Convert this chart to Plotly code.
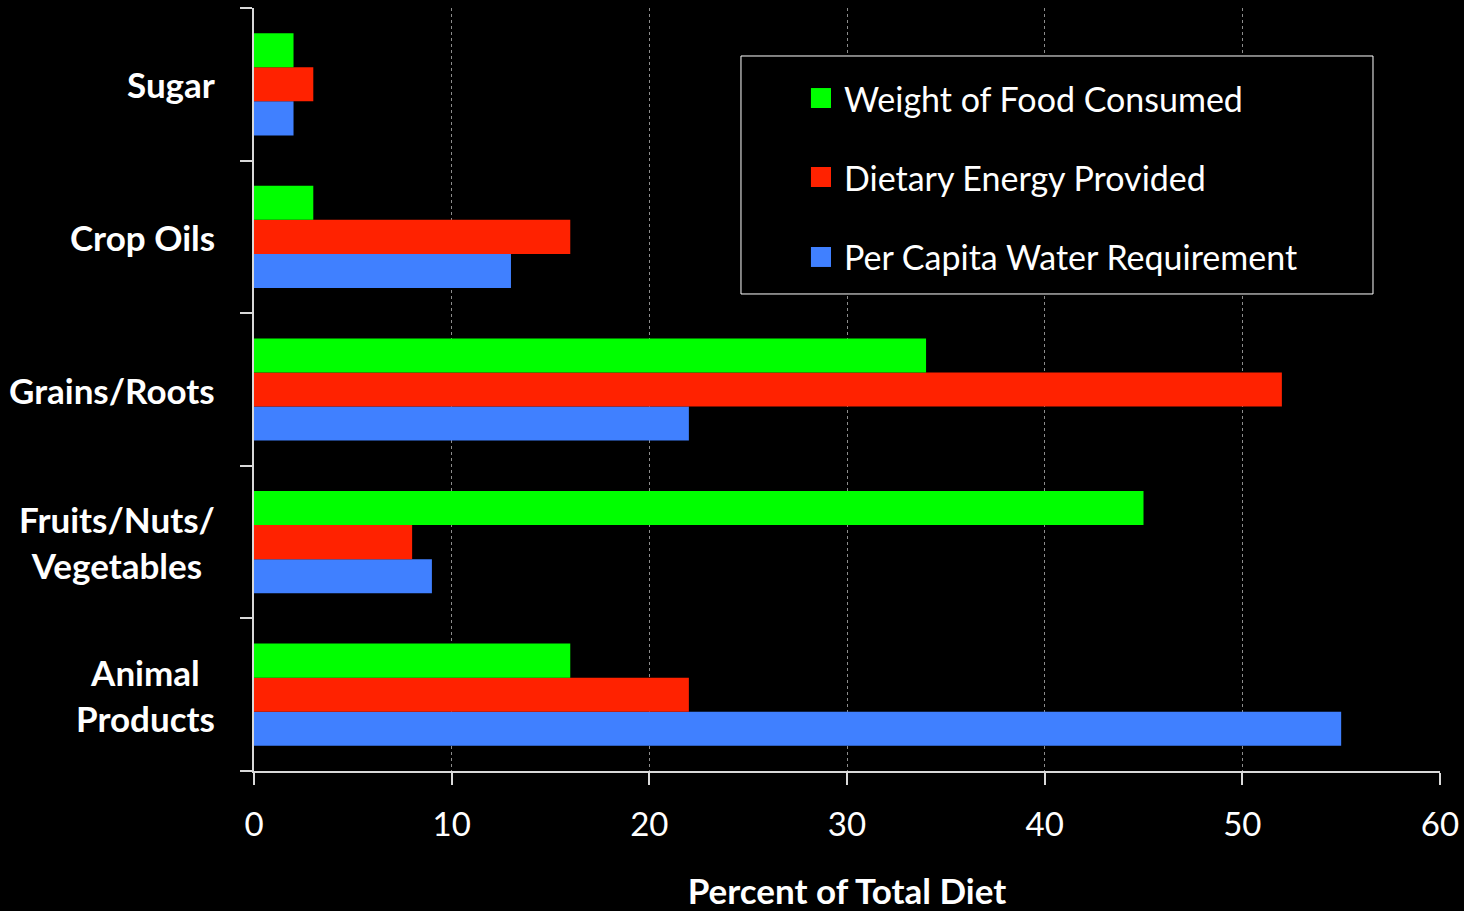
import plotly.graph_objects as go

categories = ["Animal Products", "Fruits/Nuts/ Vegetables", "Grains/Roots", "Crop Oils", "Sugar"]
category_labels = ["Animal<br>Products", "Fruits/Nuts/<br>Vegetables", "Grains/Roots", "Crop Oils", "Sugar"]
weight_food = [16, 45, 34, 3, 2]
dietary_energy = [22, 8, 52, 16, 3]
water_req = [55, 9, 22, 13, 2]

series_names = ["Per Capita Water Requirement", "Dietary Energy Provided", "Weight of Food Consumed"]
series_values = [water_req, dietary_energy, weight_food]
series_colors = ["#4080FF", "#FF2200", "#00FF00"]

FONT = "Lato"

fig = go.Figure()
for name, vals, col in zip(series_names, series_values, series_colors):
    fig.add_trace(go.Bar(
        y=categories, x=vals, name=name, orientation="h",
        marker=dict(color=col, line=dict(width=0)),
        showlegend=False,
    ))

for cat, lab in zip(categories, category_labels):
    fig.add_annotation(
        x=0, y=cat, xref="paper", yref="y", text=lab, showarrow=False,
        xanchor="right", yanchor="middle", align="center", xshift=-37,
        font=dict(family=FONT, size=35, color="white", weight="bold"),
    )

# manual legend (box, colour squares, labels) in paper coordinates
fig.add_shape(type="rect", xref="paper", yref="paper",
              x0=0.4106, x1=0.9435, y0=0.6252, y1=0.9371,
              line=dict(color="white", width=1), fillcolor="black", layer="above")
legend_rows = [("Weight of Food Consumed", "#00FF00", 0.8820),
               ("Dietary Energy Provided", "#FF2200", 0.7785),
               ("Per Capita Water Requirement", "#4080FF", 0.6737)]
for text, col, yc in legend_rows:
    fig.add_shape(type="rect", xref="paper", yref="paper",
                  x0=0.4696, x1=0.4865, y0=yc - 0.0131, y1=yc + 0.0131,
                  line=dict(width=0), fillcolor=col, layer="above")
    fig.add_annotation(x=0.4958, y=yc, xref="paper", yref="paper", text=text,
                       showarrow=False, xanchor="left", yanchor="middle",
                       font=dict(family=FONT, size=34, color="white"))

fig.update_layout(
    width=1464, height=911,
    paper_bgcolor="black", plot_bgcolor="black",
    margin=dict(l=254, r=24, t=8, b=140),
    barmode="group", bargap=0.33, bargroupgap=0,
    font=dict(family=FONT, color="white", size=32),
    showlegend=False,
    xaxis=dict(
        range=[0, 60], tickvals=[0, 10, 20, 30, 40, 50, 60],
        automargin=False,
        showgrid=True, gridcolor="#8C8C8C", griddash="dot", gridwidth=1,
        showline=True, linecolor="#D9D9D9", linewidth=2,
        ticks="outside", ticklen=12, tickcolor="#D9D9D9", tickwidth=2,
        ticklabelstandoff=11,
        tickfont=dict(family=FONT, size=33, color="white"),
        title=dict(text="Percent of Total Diet", standoff=42,
                   font=dict(family=FONT, size=35, color="white", weight="bold")),
        zeroline=False,
    ),
    yaxis=dict(
        categoryorder="array", categoryarray=categories,
        automargin=False,
        showticklabels=False, showgrid=False,
        showline=True, linecolor="#D9D9D9", linewidth=2,
        ticks="outside", ticklen=12, tickcolor="#D9D9D9", tickwidth=2,
        tickson="boundaries",
    ),
)

fig.write_html("out.html")
